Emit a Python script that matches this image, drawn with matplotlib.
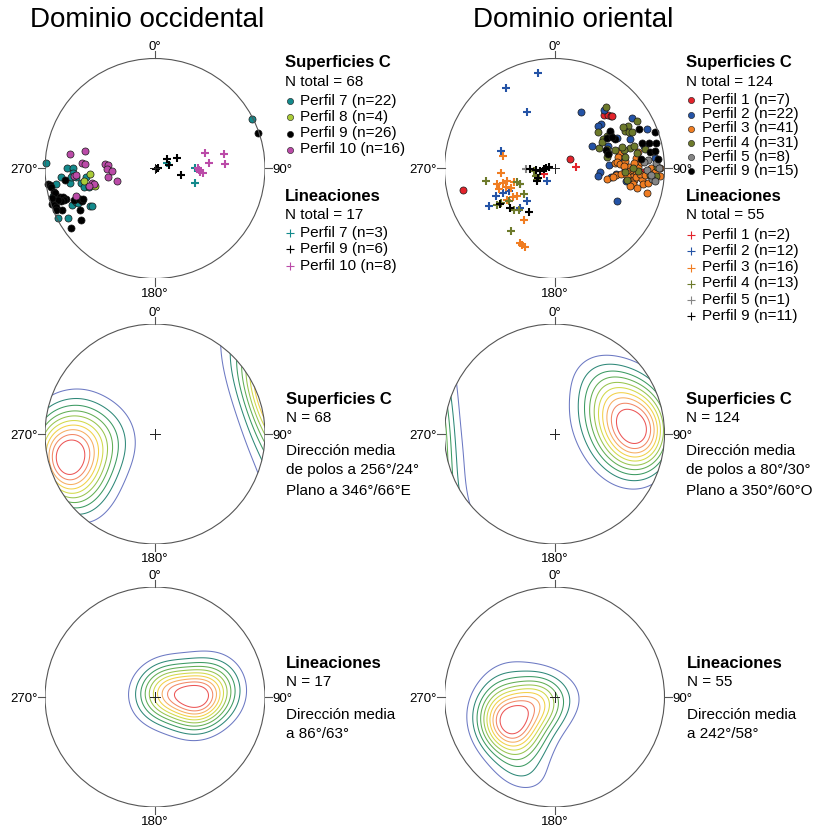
import numpy as np
import matplotlib
matplotlib.use("Agg")
import matplotlib.pyplot as plt
from matplotlib.patches import Circle

plt.rcParams['font.family'] = ['Liberation Sans', 'DejaVu Sans']

W, H = 828, 830
R = 110  # net radius in pixels

# ---------------- Dominio occidental ----------------
# Polos de superficies C (dirección, inmersión en grados)
occ_c_perfil7 = [(63, 1), (273, 1), (270, 21), (270, 26), (267, 26), (265, 15), (261, 10),
                 (260, 23), (264, 29), (263, 37), (259, 32), (255, 34), (254, 38), (255, 5),
                 (246, 19), (247, 23), (240, 32), (239, 34), (243, 1), (240, 10), (264, 24),
                 (246, 24)]
occ_c_perfil8 = [(265, 40), (260, 35), (254, 43), (248, 27)]
occ_c_perfil9 = [(71, 1), (262, 2), (261, 4), (260, 5), (257, 6), (256, 7), (253, 11),
                 (253, 14), (251, 16), (251, 14), (251, 11), (252, 8), (251, 1), (250, 3),
                 (249, 4), (246, 8), (249, 22), (248, 26), (246, 28), (247, 30), (241, 23),
                 (235, 19), (235, 7), (263, 19), (247, 3), (254, 3)]
occ_c_perfil10 = [(280, 23), (284, 35), (274, 34), (274, 36), (275, 52), (274, 55), (269, 54),
                  (267, 58), (260, 54), (252, 60), (265, 27), (265, 29), (257, 41), (256, 42),
                  (255, 38), (251, 25)]
# Lineaciones
occ_l_perfil7 = [(64, 80), (90, 60), (110, 58)]
occ_l_perfil9 = [(100, 89), (76, 88), (52, 79), (76, 79), (64, 72), (103, 70)]
occ_l_perfil10 = [(73, 51), (78, 36), (84, 49), (86, 36), (92, 57), (94, 56), (95, 54), (90, 58)]

# ---------------- Dominio oriental ----------------
ori_c_perfil1 = [(257, 16), (59, 77), (43, 34), (45, 32), (47, 31), (92, 21), (48, 30)]
ori_c_perfil2 = [(25, 43), (40, 31), (46, 41), (46, 44), (57, 17), (67, 10), (59, 57), (67, 46),
                 (69, 27), (74, 48), (95, 56), (100, 57), (99, 47), (95, 43), (100, 34),
                 (117, 36), (76, 17), (64, 37), (84, 9), (96, 31), (86, 49), (81, 40)]
ori_c_perfil3 = [(75, 40), (77, 39), (80, 41), (85, 44), (84, 42), (86, 40), (79, 24), (83, 26),
                 (87, 25), (84, 36), (90, 5), (91, 36), (89, 33), (92, 32), (91, 29), (94, 27),
                 (89, 25), (94, 4), (101, 50), (96, 43), (96, 30), (98, 28), (96, 26), (101, 28),
                 (97, 21), (100, 19), (103, 24), (105, 14), (95, 39), (98, 33), (94, 23),
                 (94, 19), (103, 30), (88, 37), (90, 13), (92, 9), (98, 45), (86, 22), (99, 15),
                 (86, 28), (96, 34)]
ori_c_perfil4 = [(40, 28), (50, 47), (60, 14), (60, 24), (62, 28), (64, 26), (65, 23), (58, 43),
                 (65, 53), (70, 48), (75, 30), (78, 17), (75, 48), (78, 50), (75, 35), (79, 25),
                 (81, 35), (89, 8), (92, 25), (94, 14), (93, 36), (99, 34), (59, 47), (72, 36),
                 (57, 40), (59, 28), (90, 29), (74, 26), (73, 42), (94, 8), (61, 49)]
ori_c_perfil5 = [(85, 16), (87, 8), (91, 17), (96, 12), (97, 9), (86, 20), (90, 6), (94, 13)]
ori_c_perfil9 = [(65, 16), (70, 3), (56, 39), (60, 44), (64, 39), (61, 40), (70, 49), (75, 48),
                 (74, 18), (75, 12), (76, 5), (80, 13), (80, 8), (84, 22), (85, 6)]
ori_l_perfil1 = [(242, 81), (86, 74)]
ori_l_perfil2 = [(350, 13), (329, 16), (334, 42), (288, 48), (245, 62), (245, 41), (240, 32),
                 (245, 47), (220, 58), (221, 51), (210, 79), (243, 52)]
ori_l_perfil3 = [(284, 50), (265, 50), (255, 45), (250, 45), (249, 51), (255, 53), (254, 50),
                 (251, 58), (236, 52), (237, 47), (211, 45), (205, 26), (203, 25), (201, 25),
                 (246, 54), (234, 55)]
ori_l_perfil4 = [(260, 37), (250, 60), (246, 62), (230, 60), (238, 38), (237, 42), (234, 48),
                 (224, 46), (215, 31), (263, 75), (248, 75), (237, 75), (221, 49)]
ori_l_perfil5 = [(269, 69)]
ori_l_perfil9 = [(268, 72), (265, 76), (262, 79), (268, 82), (272, 84), (284, 86), (241, 76),
                 (235, 74), (228, 45), (237, 41), (210, 52)]

# Colores por perfil
C_P1, C_P2, C_P3, C_P4, C_P5 = '#e3232b', '#2453a6', '#f07d22', '#6d7a2b', '#858585'
C_P7, C_P8, C_P9, C_P10 = '#138a8c', '#aacb38', '#000000', '#bb4ba8'
CONTOUR_COLORS = ['#6c79c3', '#2e8878', '#3c9a62', '#62ae55', '#98c44f', '#d2d94a',
                  '#f2d148', '#f6ae62', '#f28866', '#ec5656']

occ_superficies = [("Perfil 7", C_P7, occ_c_perfil7), ("Perfil 8", C_P8, occ_c_perfil8),
                   ("Perfil 9", C_P9, occ_c_perfil9), ("Perfil 10", C_P10, occ_c_perfil10)]
occ_lineaciones = [("Perfil 7", C_P7, occ_l_perfil7), ("Perfil 9", C_P9, occ_l_perfil9),
                   ("Perfil 10", C_P10, occ_l_perfil10)]
ori_superficies = [("Perfil 1", C_P1, ori_c_perfil1), ("Perfil 2", C_P2, ori_c_perfil2),
                   ("Perfil 3", C_P3, ori_c_perfil3), ("Perfil 4", C_P4, ori_c_perfil4),
                   ("Perfil 5", C_P5, ori_c_perfil5), ("Perfil 9", C_P9, ori_c_perfil9)]
ori_lineaciones = [("Perfil 1", C_P1, ori_l_perfil1), ("Perfil 2", C_P2, ori_l_perfil2),
                   ("Perfil 3", C_P3, ori_l_perfil3), ("Perfil 4", C_P4, ori_l_perfil4),
                   ("Perfil 5", C_P5, ori_l_perfil5), ("Perfil 9", C_P9, ori_l_perfil9)]


def schmidt_xy(pairs):
    """Lower-hemisphere equal-area projection of (trend, plunge) pairs."""
    a = np.asarray(pairs, float)
    tr, pl = np.radians(a[:, 0]), np.radians(a[:, 1])
    r = np.sqrt(2) * np.sin((np.pi / 2 - pl) / 2)
    return r * np.sin(tr), r * np.cos(tr)


def unit_vectors(trend, plunge):
    return np.stack([np.cos(plunge) * np.cos(trend),
                     np.cos(plunge) * np.sin(trend),
                     np.sin(plunge)], -1)


def density(pairs, kappa, n=241):
    """Axial exponential-kernel density evaluated on the projection plane."""
    g = np.linspace(-1.1, 1.1, n)
    X, Y = np.meshgrid(g, g)
    rr = np.clip(np.hypot(X, Y), 0, np.sqrt(2) - 1e-6)
    colat = 2 * np.arcsin(rr / np.sqrt(2))
    V = unit_vectors(np.arctan2(X, Y), np.pi / 2 - colat).reshape(-1, 3)
    a = np.asarray(pairs, float)
    P = unit_vectors(np.radians(a[:, 0]), np.radians(a[:, 1]))
    c = np.abs(V @ P.T)
    D = np.exp(kappa * (c - 1)).sum(1).reshape(X.shape)
    return X, Y, D


fig = plt.figure(figsize=(W / 100, H / 100), dpi=100)
overlay = fig.add_axes([0, 0, 1, 1])
overlay.set_xlim(0, W)
overlay.set_ylim(H, 0)
overlay.axis('off')

NET_COLOR = '#555555'


def net(cx, cy):
    ax = fig.add_axes([(cx - R) / W, 1 - (cy + R) / H, 2 * R / W, 2 * R / H])
    ax.set_xlim(-1, 1)
    ax.set_ylim(-1, 1)
    ax.axis('off')
    prim = Circle((0, 0), 1, fill=False, ec=NET_COLOR, lw=0.8, zorder=6)
    ax.add_patch(prim)
    t = 0.065
    for x0, y0, x1, y1 in [(0, 1, 0, 1 + t), (0, -1, 0, -1 - t), (1, 0, 1 + t, 0), (-1, 0, -1 - t, 0)]:
        ax.plot([x0, x1], [y0, y1], color=NET_COLOR, lw=0.8, clip_on=False)
    fs = 9.5
    ax.text(0, 1.075, '0°', ha='center', va='baseline', fontsize=fs, clip_on=False)
    ax.text(0, -1.085, '180°', ha='center', va='top', fontsize=fs, clip_on=False)
    ax.text(-1.07, -0.015, '270°', ha='right', va='center', fontsize=fs, clip_on=False)
    ax.text(1.07, -0.015, '90°', ha='left', va='center', fontsize=fs, clip_on=False)
    ax.plot([-0.045, 0.045], [0, 0], color='#222222', lw=0.7, zorder=7)
    ax.plot([0, 0], [-0.045, 0.045], color='#222222', lw=0.7, zorder=7)
    return ax


def scatter_net(ax, superficies, lineaciones):
    for _, col, pts in superficies:
        x, y = schmidt_xy(pts)
        ax.scatter(x, y, s=26, c=col, edgecolors='#1a1a1a', linewidths=0.5,
                   zorder=3, clip_on=False)
    for _, col, pts in lineaciones:
        x, y = schmidt_xy(pts)
        ax.scatter(x, y, s=32, c=col, marker='+', linewidths=1.5, zorder=4, clip_on=False)


def contour_net(ax, pts, kappa, lo=0.10, hi=0.87):
    X, Y, D = density(pts, kappa)
    levels = D.max() * np.linspace(lo, hi, len(CONTOUR_COLORS))
    cs = ax.contour(X, Y, D, levels=levels, colors=CONTOUR_COLORS, linewidths=0.75, zorder=2)
    clip = Circle((0, 0), 1, transform=ax.transData)
    cs.set_clip_path(clip)


def legend(x0, y_title, title, ntext, entries, y_first, step, kind, tx_off):
    overlay.text(x0, y_title, title, fontsize=12, fontweight='bold', va='center', ha='left')
    overlay.text(x0, y_title + 18.5, ntext, fontsize=11, va='center', ha='left')
    for i, (lab, col, pts) in enumerate(entries):
        y = y_first + i * step
        if kind == 'c':
            overlay.scatter([x0 + 5], [y + 0.5], s=20, c=col, edgecolors='#1a1a1a', linewidths=0.4)
        else:
            overlay.scatter([x0 + 5], [y + 0.5], s=32, c=col, marker='+', linewidths=0.8)
        overlay.text(x0 + tx_off, y, f"{lab} (n={len(pts)})", fontsize=11, va='center', ha='left')


def all_pts(groups):
    return [p for _, _, pts in groups for p in pts]


LX, RX = 155, 554.5
ROWS = [168.5, 434, 697]

# ---- Row 1: datos ----
ax = net(LX, ROWS[0])
scatter_net(ax, occ_superficies, occ_lineaciones)
ax = net(RX, ROWS[0])
scatter_net(ax, ori_superficies, ori_lineaciones)

n_occ_c = len(all_pts(occ_superficies))
n_occ_l = len(all_pts(occ_lineaciones))
n_ori_c = len(all_pts(ori_superficies))
n_ori_l = len(all_pts(ori_lineaciones))

legend(285, 63, 'Superficies C', f'N total = {n_occ_c}', occ_superficies, 100.5, 16.3, 'c', 15)
legend(285, 196, 'Lineaciones', f'N total = {n_occ_l}', occ_lineaciones, 232.5, 16.5, 'l', 15)
legend(686, 63, 'Superficies C', f'N total = {n_ori_c}', ori_superficies, 100, 14.2, 'c', 16)
legend(686, 196, 'Lineaciones', f'N total = {n_ori_l}', ori_lineaciones, 234.5, 16.3, 'l', 16)

# ---- Row 2: superficies C ----
ax = net(LX, ROWS[1])
contour_net(ax, all_pts(occ_superficies), 13)
ax = net(RX, ROWS[1])
contour_net(ax, all_pts(ori_superficies), 15)

# ---- Row 3: lineaciones ----
ax = net(LX, ROWS[2])
contour_net(ax, all_pts(occ_lineaciones), 18)
ax = net(RX, ROWS[2])
contour_net(ax, all_pts(ori_lineaciones), 18)


def info(x0, y0, title, lines):
    overlay.text(x0, y0, title, fontsize=12, fontweight='bold', va='center', ha='left')
    ys = [y0 + 18.5, y0 + 52, y0 + 70.5, y0 + 91.5]
    for y, s in zip(ys, lines):
        overlay.text(x0, y, s, fontsize=11, va='center', ha='left')


info(286, 399, 'Superficies C', [f'N = {n_occ_c}', 'Dirección media', 'de polos a 256°/24°',
                                 'Plano a 346°/66°E'])
info(686, 399, 'Superficies C', [f'N = {n_ori_c}', 'Dirección media', 'de polos a 80°/30°',
                                 'Plano a 350°/60°O'])
info(286, 663, 'Lineaciones', [f'N = {n_occ_l}', 'Dirección media', 'a 86°/63°'])
info(687, 663, 'Lineaciones', [f'N = {n_ori_l}', 'Dirección media', 'a 242°/58°'])

overlay.text(30, 20, 'Dominio occidental', fontsize=20, va='center', ha='left')
overlay.text(473, 20, 'Dominio oriental', fontsize=20, va='center', ha='left')

fig.savefig('out.png', dpi=100)
